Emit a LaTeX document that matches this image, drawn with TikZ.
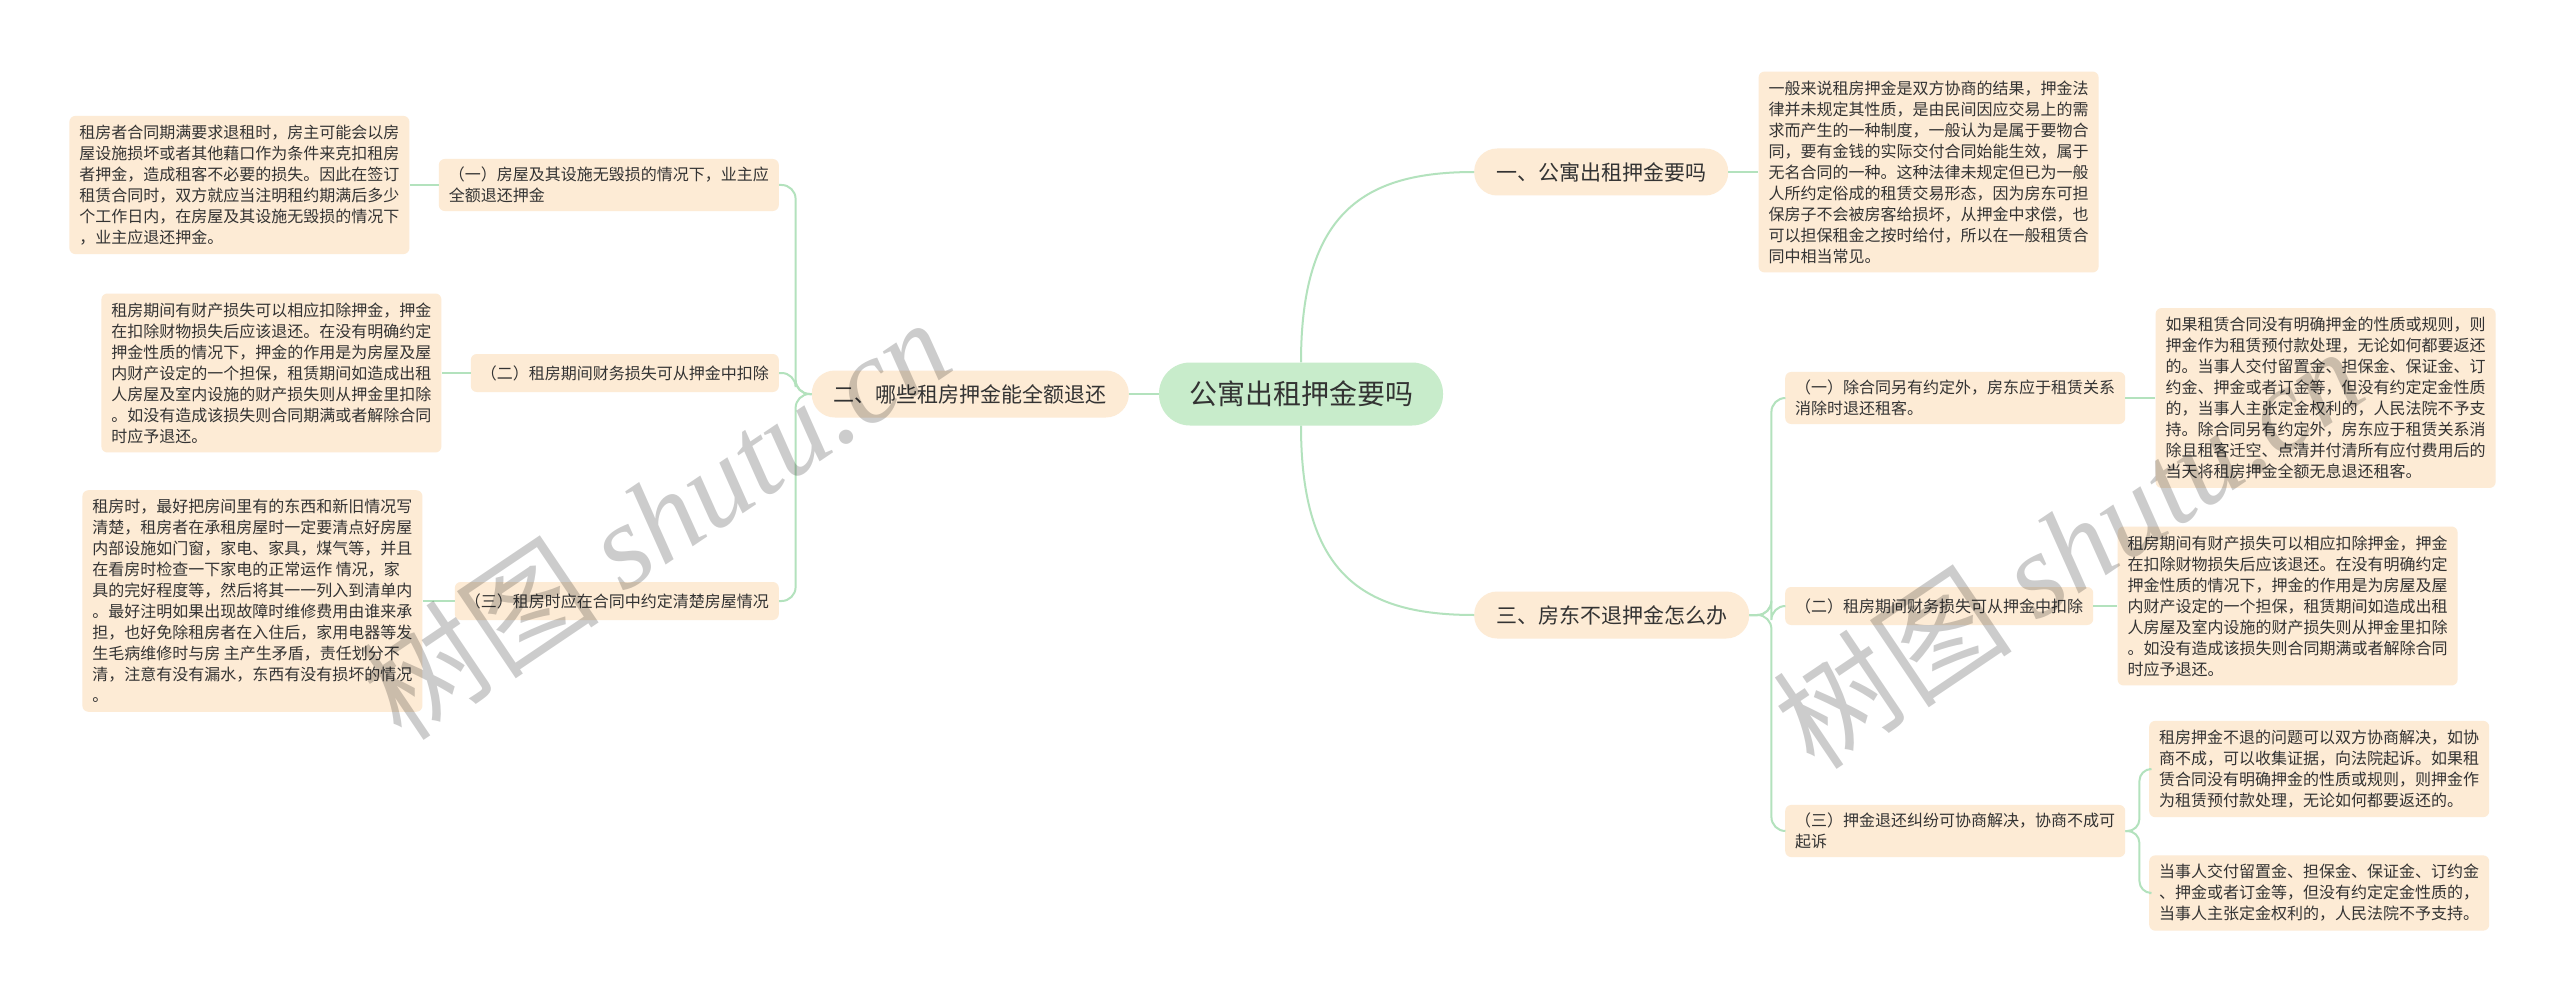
\documentclass[tikz,border=0pt]{standalone}
\usepackage{fontspec}
\setmainfont{Noto Sans CJK SC}
\newfontfamily\wmser{Liberation Serif}
\definecolor{peach}{HTML}{FDEBD5}
\definecolor{mint}{HTML}{C8ECCB}
\definecolor{lineg}{HTML}{B3E2BD}
\definecolor{txt}{HTML}{333333}
\tikzset{
  conn/.style={draw=lineg, line width=2pt},
  rootbox/.style={fill=mint, rounded corners=31pt, minimum height=63pt, inner xsep=30pt, font=\fontsize{28pt}{34pt}\selectfont, text=txt},
  branchbox/.style={fill=peach, rounded corners=23pt, minimum height=47pt, inner xsep=22pt, font=\fontsize{21pt}{26pt}\selectfont, text=txt},
  labelbox/.style={fill=peach, rounded corners=6pt, inner xsep=10pt, inner ysep=8pt, minimum height=38pt, align=left, font=\fontsize{16pt}{21pt}\selectfont, text=txt},
  leafbox/.style={fill=peach, rounded corners=6pt, inner xsep=10pt, inner ysep=9pt, align=left, font=\fontsize{16pt}{21pt}\selectfont, text=txt},
  wmark/.style={text=black, text opacity=0.2, font=\fontsize{120pt}{130pt}\selectfont, inner sep=0pt}
}
\begin{document}
\begin{tikzpicture}[x=1pt,y=-1pt]
\fill[white] (0,0) rectangle (2560,1003);
\useasboundingbox (0,0) rectangle (2560,1003);

% root and branches
\node[rootbox] (root) at (1301,394) {公寓出租押金要吗};
\node[branchbox, anchor=west] (b1) at (1474,172) {一、公寓出租押金要吗};
\node[branchbox, anchor=east] (b2) at (1129,394) {二、哪些租房押金能全额退还};
\node[branchbox, anchor=west] (b3) at (1474,615) {三、房东不退押金怎么办};

% right top leaf
\node[leafbox, anchor=west] (rt) at ([xshift=30pt]b1.east) {一般来说租房押金是双方协商的结果，押金法\\律并未规定其性质，是由民间因应交易上的需\\求而产生的一种制度，一般认为是属于要物合\\同，要有金钱的实际交付合同始能生效，属于\\无名合同的一种。这种法律未规定但已为一般\\人所约定俗成的租赁交易形态，因为房东可担\\保房子不会被房客给损坏，从押金中求偿，也\\可以担保租金之按时给付，所以在一般租赁合\\同中相当常见。};

% left labels
\node[labelbox, anchor=east] (l1) at (779,185) {（一）房屋及其设施无毁损的情况下，业主应\\全额退还押金};
\node[labelbox, anchor=east] (l2) at (779,373) {（二）租房期间财务损失可从押金中扣除};
\node[labelbox, anchor=east] (l3) at (779,601) {（三）租房时应在合同中约定清楚房屋情况};

% left leaves
\node[leafbox, anchor=east] (ll1) at ([xshift=-29pt]l1.west) {租房者合同期满要求退租时，房主可能会以房\\屋设施损坏或者其他藉口作为条件来克扣租房\\者押金，造成租客不必要的损失。因此在签订\\租赁合同时，双方就应当注明租约期满后多少\\个工作日内，在房屋及其设施无毁损的情况下\\，业主应退还押金。};
\node[leafbox, anchor=east] (ll2) at ([xshift=-29pt]l2.west) {租房期间有财产损失可以相应扣除押金，押金\\在扣除财物损失后应该退还。在没有明确约定\\押金性质的情况下，押金的作用是为房屋及屋\\内财产设定的一个担保，租赁期间如造成出租\\人房屋及室内设施的财产损失则从押金里扣除\\。如没有造成该损失则合同期满或者解除合同\\时应予退还。};
\node[leafbox, anchor=east] (ll3) at ([xshift=-32pt]l3.west) {租房时，最好把房间里有的东西和新旧情况写\\清楚，租房者在承租房屋时一定要清点好房屋\\内部设施如门窗，家电、家具，煤气等，并且\\在看房时检查一下家电的正常运作 情况，家\\具的完好程度等，然后将其一一列入到清单内\\。最好注明如果出现故障时维修费用由谁来承\\担，也好免除租房者在入住后，家用电器等发\\生毛病维修时与房 主产生矛盾，责任划分不\\清，注意有没有漏水，东西有没有损坏的情况\\。};

% right labels
\node[labelbox, anchor=west] (r1) at (1785,398) {（一）除合同另有约定外，房东应于租赁关系\\消除时退还租客。};
\node[labelbox, anchor=west] (r2) at (1785,606) {（二）租房期间财务损失可从押金中扣除};
\node[labelbox, anchor=west] (r3) at (1785,831) {（三）押金退还纠纷可协商解决，协商不成可\\起诉};

% right leaves
\node[leafbox, anchor=west] (rl1) at ([xshift=30pt]r1.east) {如果租赁合同没有明确押金的性质或规则，则\\押金作为租赁预付款处理，无论如何都要返还\\的。当事人交付留置金、担保金、保证金、订\\约金、押金或者订金等，但没有约定定金性质\\的，当事人主张定金权利的，人民法院不予支\\持。除合同另有约定外，房东应于租赁关系消\\除且租客迁空、点清并付清所有应付费用后的\\当天将租房押金全额无息退还租客。};
\node[leafbox, anchor=west] (rl2) at ([xshift=24pt]r2.east) {租房期间有财产损失可以相应扣除押金，押金\\在扣除财物损失后应该退还。在没有明确约定\\押金性质的情况下，押金的作用是为房屋及屋\\内财产设定的一个担保，租赁期间如造成出租\\人房屋及室内设施的财产损失则从押金里扣除\\。如没有造成该损失则合同期满或者解除合同\\时应予退还。};
\node[leafbox, anchor=west] (rl3a) at (2149,769) {租房押金不退的问题可以双方协商解决，如协\\商不成，可以收集证据，向法院起诉。如果租\\赁合同没有明确押金的性质或规则，则押金作\\为租赁预付款处理，无论如何都要返还的。};
\node[leafbox, anchor=west] (rl3b) at (2149,893) {当事人交付留置金、担保金、保证金、订约金\\、押金或者订金等，但没有约定定金性质的，\\当事人主张定金权利的，人民法院不予支持。};

% connectors
\draw[conn] (root.west) -- (b2.east);
\draw[conn] (root.north) .. controls +(0,-150) and +(-110,0) .. (b1.west);
\draw[conn] (root.south) .. controls +(0,150) and +(-110,0) .. (b3.west);
\draw[conn] (b1.east) -- (rt.west);
\draw[conn, rounded corners=14pt] (b2.west) -- ++(-16,0) |- (l1.east);
\draw[conn, rounded corners=14pt] (b2.west) -- ++(-16,0) |- (l2.east);
\draw[conn, rounded corners=14pt] (b2.west) -- ++(-16,0) |- (l3.east);
\draw[conn] (l1.west) -- (ll1.east);
\draw[conn] (l2.west) -- (ll2.east);
\draw[conn] (l3.west) -- (ll3.east);
\draw[conn, rounded corners=14pt] (b3.east) -- ++(22,0) |- (r1.west);
\draw[conn, rounded corners=14pt] (b3.east) -- ++(22,0) |- (r2.west);
\draw[conn, rounded corners=14pt] (b3.east) -- ++(22,0) |- (r3.west);
\draw[conn] (r1.east) -- (rl1.west);
\draw[conn] (r2.east) -- (rl2.west);
\draw[conn, rounded corners=12pt] (r3.east) -- ++(14,0) |- (rl3a.west);
\draw[conn, rounded corners=12pt] (r3.east) -- ++(14,0) |- (rl3b.west);

% watermarks
\node[wmark, rotate=34] (wm1) at (655,518) {树图 {\wmser\itshape shutu.cn}};
\node[wmark, rotate=34] (wm2) at (2068,547) {树图 {\wmser\itshape shutu.cn}};
\end{tikzpicture}
\end{document}
